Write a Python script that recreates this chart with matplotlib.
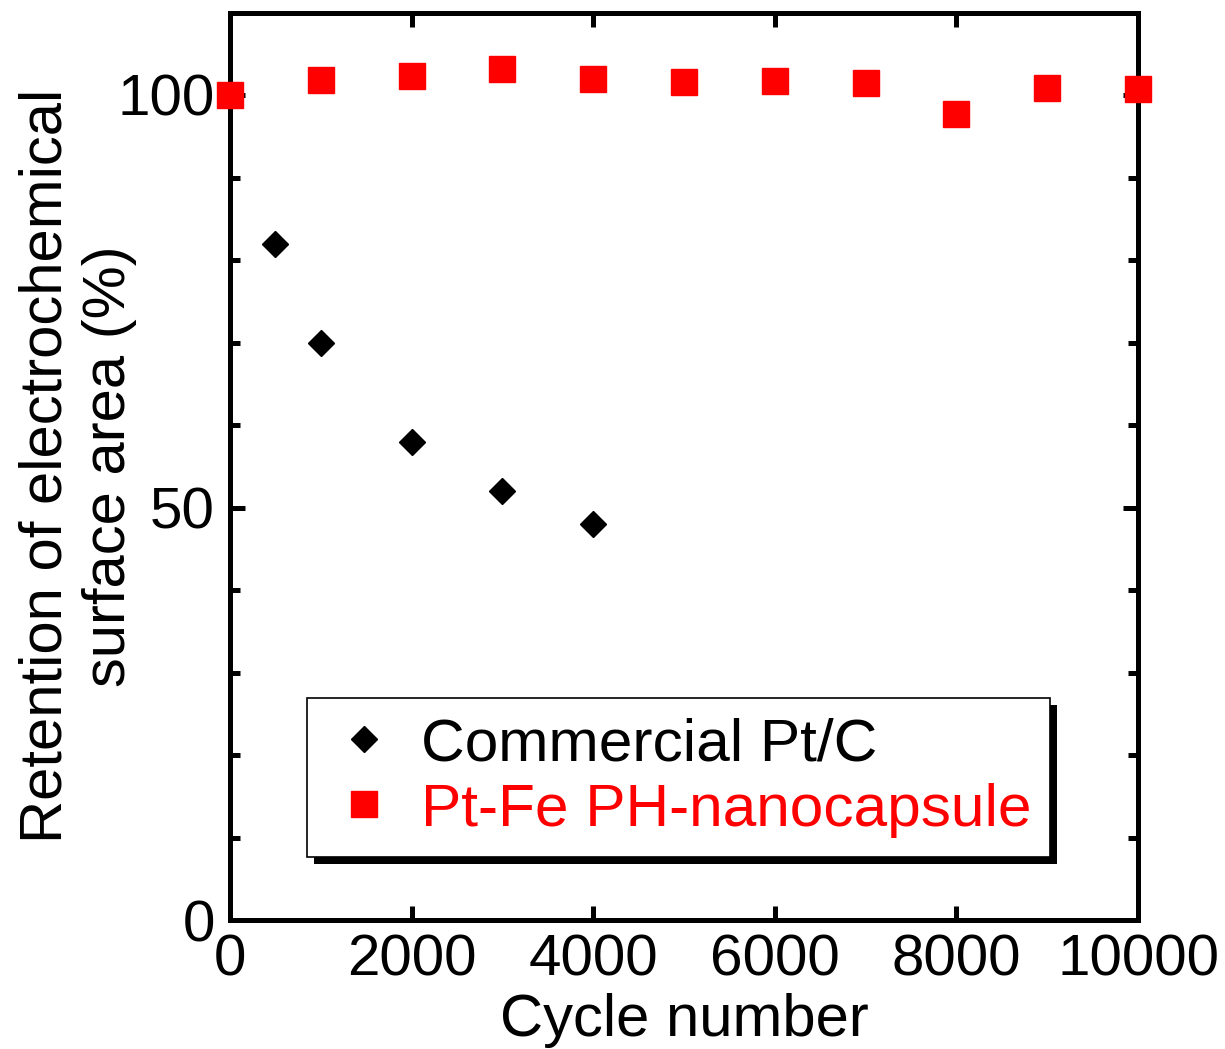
import numpy as np
import matplotlib
matplotlib.use('Agg')
import matplotlib.pyplot as plt
from matplotlib.patches import Rectangle
from matplotlib.ticker import MultipleLocator

plt.rcParams['font.family'] = ['Liberation Sans', 'DejaVu Sans']

# data
ptc_cycles = [500, 1000, 2000, 3000, 4000]
ptc_retention = [82.0, 70.0, 58.0, 52.0, 48.0]

ptfe_cycles = [0, 1000, 2000, 3000, 4000, 5000, 6000, 7000, 8000, 9000, 10000]
ptfe_retention = [100.0, 101.8, 102.3, 103.1, 102.0, 101.6, 101.65, 101.5,
                  97.7, 100.8, 100.7]

x_ticks = [0, 2000, 4000, 6000, 8000, 10000]
y_ticks = [0, 50, 100]

fig = plt.figure(figsize=(12.25, 10.49), dpi=100)
ax = fig.add_axes([230 / 1225, 1 - 920 / 1049, 908 / 1225, 907.5 / 1049])

ax.plot(ptc_cycles, ptc_retention, linestyle='none', marker='D',
        markersize=13.6, color='black', label='Commercial Pt/C',
        clip_on=False, zorder=3)
ax.plot(ptfe_cycles, ptfe_retention, linestyle='none', marker='s',
        markersize=19.2, color='#ff0000', label='Pt-Fe PH-nanocapsule',
        clip_on=False, zorder=3)

ax.set_xlim(0, 10000)
ax.set_ylim(0, 110)
ax.set_xticks(x_ticks)
ax.set_yticks(y_ticks)
ax.yaxis.set_minor_locator(MultipleLocator(10))

for s in ax.spines.values():
    s.set_linewidth(3.6)

ax.tick_params(which='both', direction='in', top=True, right=True,
               width=3.6, labelsize=42)
ax.tick_params(axis='y', which='major', length=11, pad=11)
ax.tick_params(axis='y', which='minor', length=7)
ax.tick_params(axis='x', which='major', length=10, pad=10)

ax.set_xlabel('Cycle number', fontsize=43, labelpad=4)
ax.set_ylabel('Retention of electrochemical\nsurface area (%)', fontsize=43,
              linespacing=1.2)
ax.yaxis.set_label_coords(-0.102, 0.5)

leg = ax.legend(loc='upper left', bbox_to_anchor=(0.0848, 0.2446),
                borderaxespad=0, fontsize=43.5, frameon=True, fancybox=False,
                handlelength=1.24, handletextpad=0.32, labelspacing=0.17,
                borderpad=0.32, numpoints=1)
leg.get_frame().set_edgecolor('black')
leg.get_frame().set_linewidth(1.2)
leg.get_frame().set_alpha(1)
leg.texts[1].set_color('#ff0000')
leg.set_zorder(6)

# hard black drop shadow behind the legend box
fig.canvas.draw()
bb = leg.get_frame().get_window_extent().transformed(ax.transAxes.inverted())
dx = 7 / 908
dy = 7 / 907.5
ax.add_patch(Rectangle((bb.x0 + dx, bb.y0 - dy), bb.width, bb.height,
                       transform=ax.transAxes, facecolor='black',
                       edgecolor='none', clip_on=False, zorder=5.5))

plt.savefig('out.png', dpi=100)
plt.close()
